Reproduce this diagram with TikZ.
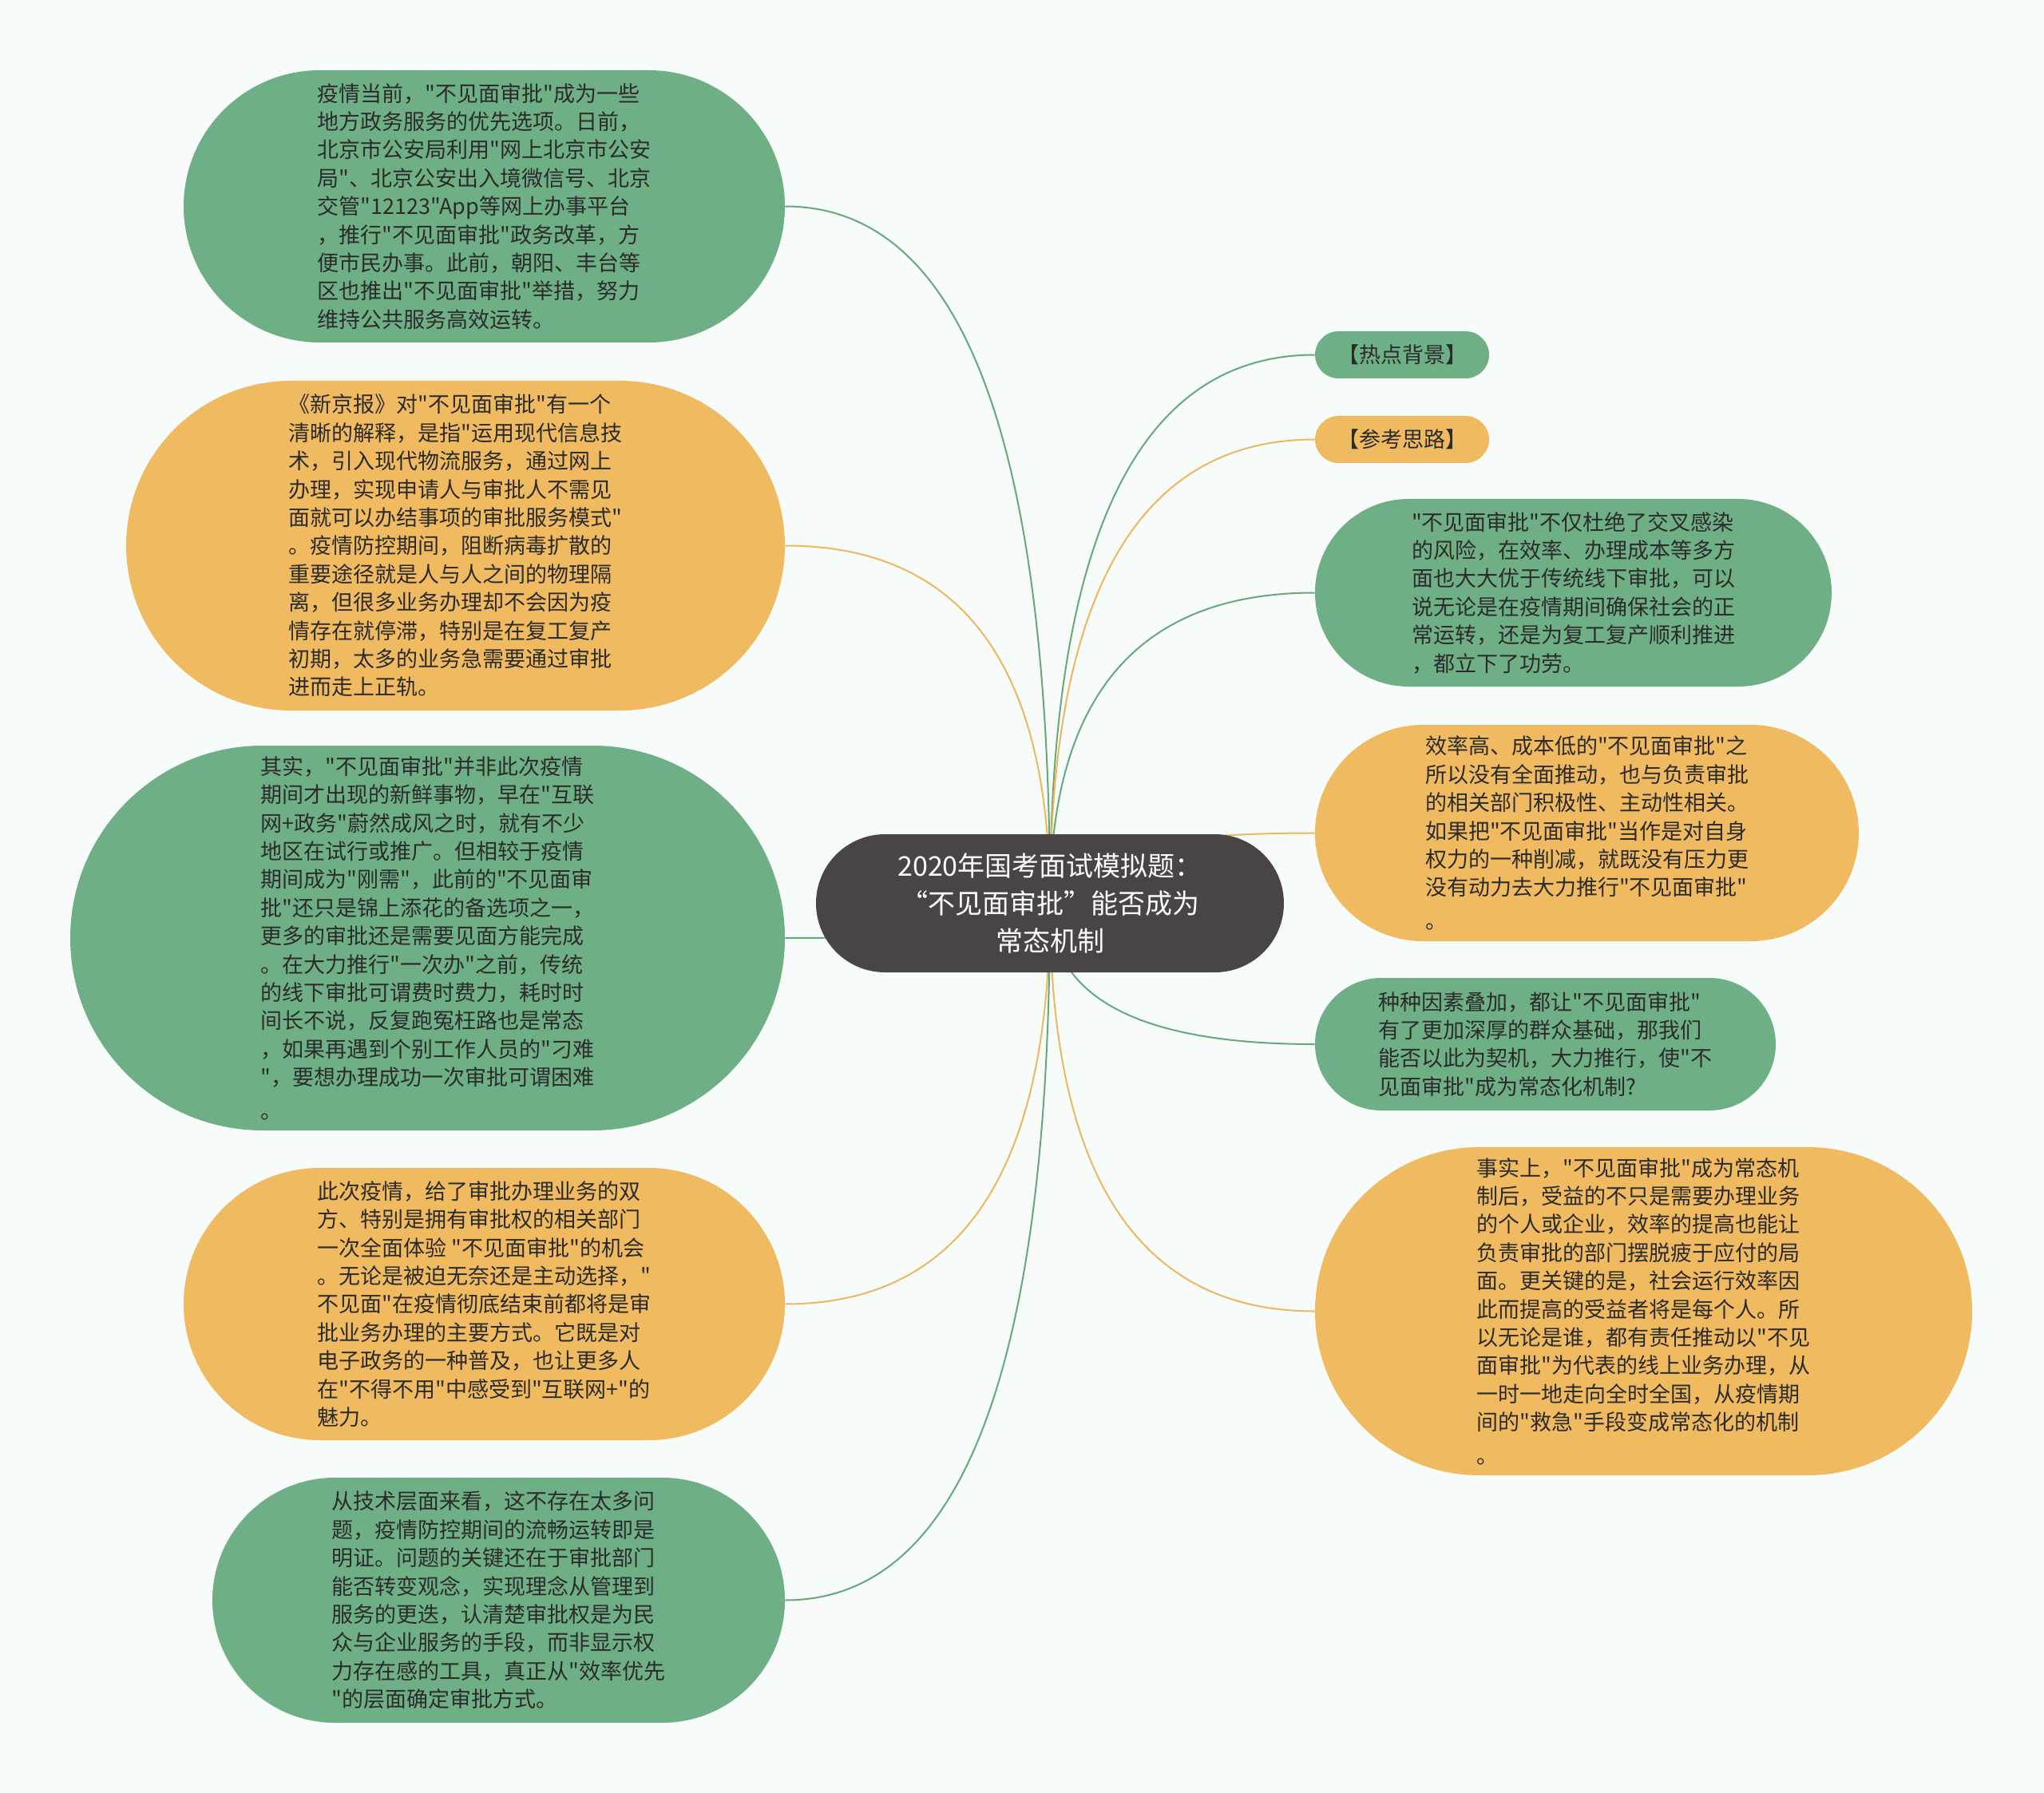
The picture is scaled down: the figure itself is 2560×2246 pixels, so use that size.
\documentclass[tikz,border=0pt]{standalone}
\usepackage{fontspec}
\setmainfont{Noto Sans CJK SC}[Ligatures=TeXOff]
\usetikzlibrary{shapes.misc,calc,backgrounds}
\definecolor{gfill}{HTML}{6FAF85}
\definecolor{ofill}{HTML}{F0BA60}
\definecolor{glink}{HTML}{67A77D}
\definecolor{olink}{HTML}{EDB75E}
\definecolor{rootc}{HTML}{4A4545}
\definecolor{bgc}{HTML}{F7FCFB}
\definecolor{txtc}{HTML}{2B2B2B}
\newcommand{\bodyfont}{\fontsize{13.5pt}{17.7pt}\selectfont}
\newcommand{\rootfont}{\fontsize{17pt}{23.5pt}\selectfont}
\newcommand{\mmlink}[2]{\draw[#1] (root.center) .. controls ($(root.center)!0.6667!(root.center |- #2)$) and ($(#2)!0.6667!(root.center |- #2)$) .. (#2);}
\tikzset{
  pill/.style={shape=rounded rectangle, inner sep=0pt, align=left, text=txtc, font=\bodyfont},
  gpill/.style={pill, fill=gfill},
  opill/.style={pill, fill=ofill},
  glinkst/.style={draw=glink, line width=1pt},
  olinkst/.style={draw=olink, line width=1pt},
}
\begin{document}
\begin{tikzpicture}[x=0.5pt,y=-0.5pt]
\useasboundingbox (0,0) rectangle (2560,2246);

\node[shape=rounded rectangle, fill=rootc, text=white, align=center, font=\rootfont,
      minimum width=293pt, minimum height=86.5pt, inner sep=0pt] (root) at (1315,1131.5)
  {2020年国考面试模拟题：\\“不见面审批”能否成为\\常态机制};

\node[gpill, minimum width=376.5pt, minimum height=170.5pt] (l1) at (606.5,258.5)
  {疫情当前，"不见面审批"成为一些\\地方政务服务的优先选项。日前，\\北京市公安局利用"网上北京市公安\\局"、北京公安出入境微信号、北京\\交管"12123"App等网上办事平台\\，推行"不见面审批"政务改革，方\\便市民办事。此前，朝阳、丰台等\\区也推出"不见面审批"举措，努力\\维持公共服务高效运转。};

\node[opill, minimum width=412.5pt, minimum height=206.5pt] (l2) at (570.5,683.5)
  {《新京报》对"不见面审批"有一个\\清晰的解释，是指"运用现代信息技\\术，引入现代物流服务，通过网上\\办理，实现申请人与审批人不需见\\面就可以办结事项的审批服务模式"\\。疫情防控期间，阻断病毒扩散的\\重要途径就是人与人之间的物理隔\\离，但很多业务办理却不会因为疫\\情存在就停滞，特别是在复工复产\\初期，太多的业务急需要通过审批\\进而走上正轨。};

\node[gpill, minimum width=447.5pt, minimum height=241pt] (l3) at (535.5,1175)
  {其实，"不见面审批"并非此次疫情\\期间才出现的新鲜事物，早在"互联\\网+政务"蔚然成风之时，就有不少\\地区在试行或推广。但相较于疫情\\期间成为"刚需"，此前的"不见面审\\批"还只是锦上添花的备选项之一，\\更多的审批还是需要见面方能完成\\。在大力推行"一次办"之前，传统\\的线下审批可谓费时费力，耗时时\\间长不说，反复跑冤枉路也是常态\\，如果再遇到个别工作人员的"刁难\\"，要想办理成功一次审批可谓困难\\[3pt]。};

\node[opill, minimum width=376.5pt, minimum height=170.5pt] (l4) at (606.5,1633.5)
  {此次疫情，给了审批办理业务的双\\方、特别是拥有审批权的相关部门\\一次全面体验 "不见面审批"的机会\\。无论是被迫无奈还是主动选择，"\\不见面"在疫情彻底结束前都将是审\\批业务办理的主要方式。它既是对\\电子政务的一种普及，也让更多人\\在"不得不用"中感受到"互联网+"的\\魅力。};

\node[gpill, minimum width=358.5pt, minimum height=153.5pt] (l5) at (624.5,2004.5)
  {从技术层面来看，这不存在太多问\\题，疫情防控期间的流畅运转即是\\明证。问题的关键还在于审批部门\\能否转变观念，实现理念从管理到\\服务的更迭，认清楚审批权是为民\\众与企业服务的手段，而非显示权\\力存在感的工具，真正从"效率优先\\"的层面确定审批方式。};

\node[gpill, minimum width=109pt, minimum height=29.5pt] (r1) at (1756,444.5) {【热点背景】};
\node[opill, minimum width=109pt, minimum height=29.5pt] (r2) at (1756,550.5) {【参考思路】};

\node[gpill, minimum width=323.5pt, minimum height=117.5pt] (r3) at (1970.5,742.5)
  {"不见面审批"不仅杜绝了交叉感染\\的风险，在效率、办理成本等多方\\面也大大优于传统线下审批，可以\\说无论是在疫情期间确保社会的正\\常运转，还是为复工复产顺利推进\\，都立下了功劳。};

\node[opill, minimum width=340.5pt, minimum height=135.5pt] (r4) at (1987.5,1043.5)
  {效率高、成本低的"不见面审批"之\\所以没有全面推动，也与负责审批\\的相关部门积极性、主动性相关。\\如果把"不见面审批"当作是对自身\\权力的一种削减，就既没有压力更\\没有动力去大力推行"不见面审批"\\[3pt]。};

\node[gpill, minimum width=288.5pt, minimum height=83pt] (r5) at (1935.5,1308)
  {种种因素叠加，都让"不见面审批"\\有了更加深厚的群众基础，那我们\\能否以此为契机，大力推行，使"不\\见面审批"成为常态化机制?};

\node[opill, minimum width=411.5pt, minimum height=205.5pt] (r6) at (2058.5,1642.5)
  {事实上，"不见面审批"成为常态机\\制后，受益的不只是需要办理业务\\的个人或企业，效率的提高也能让\\负责审批的部门摆脱疲于应付的局\\面。更关键的是，社会运行效率因\\此而提高的受益者将是每个人。所\\以无论是谁，都有责任推动以"不见\\面审批"为代表的线上业务办理，从\\一时一地走向全时全国，从疫情期\\间的"救急"手段变成常态化的机制\\[3pt]。};

\begin{pgfonlayer}{background}
\fill[bgc] (0,0) rectangle (2560,2246);
\mmlink{glinkst}{l1.east}
\mmlink{olinkst}{l2.east}
\mmlink{glinkst}{l3.east}
\mmlink{olinkst}{l4.east}
\mmlink{glinkst}{l5.east}
\mmlink{glinkst}{r1.west}
\mmlink{olinkst}{r2.west}
\mmlink{glinkst}{r3.west}
\mmlink{olinkst}{r4.west}
\mmlink{glinkst}{r5.west}
\mmlink{olinkst}{r6.west}
\end{pgfonlayer}
\end{tikzpicture}
\end{document}
